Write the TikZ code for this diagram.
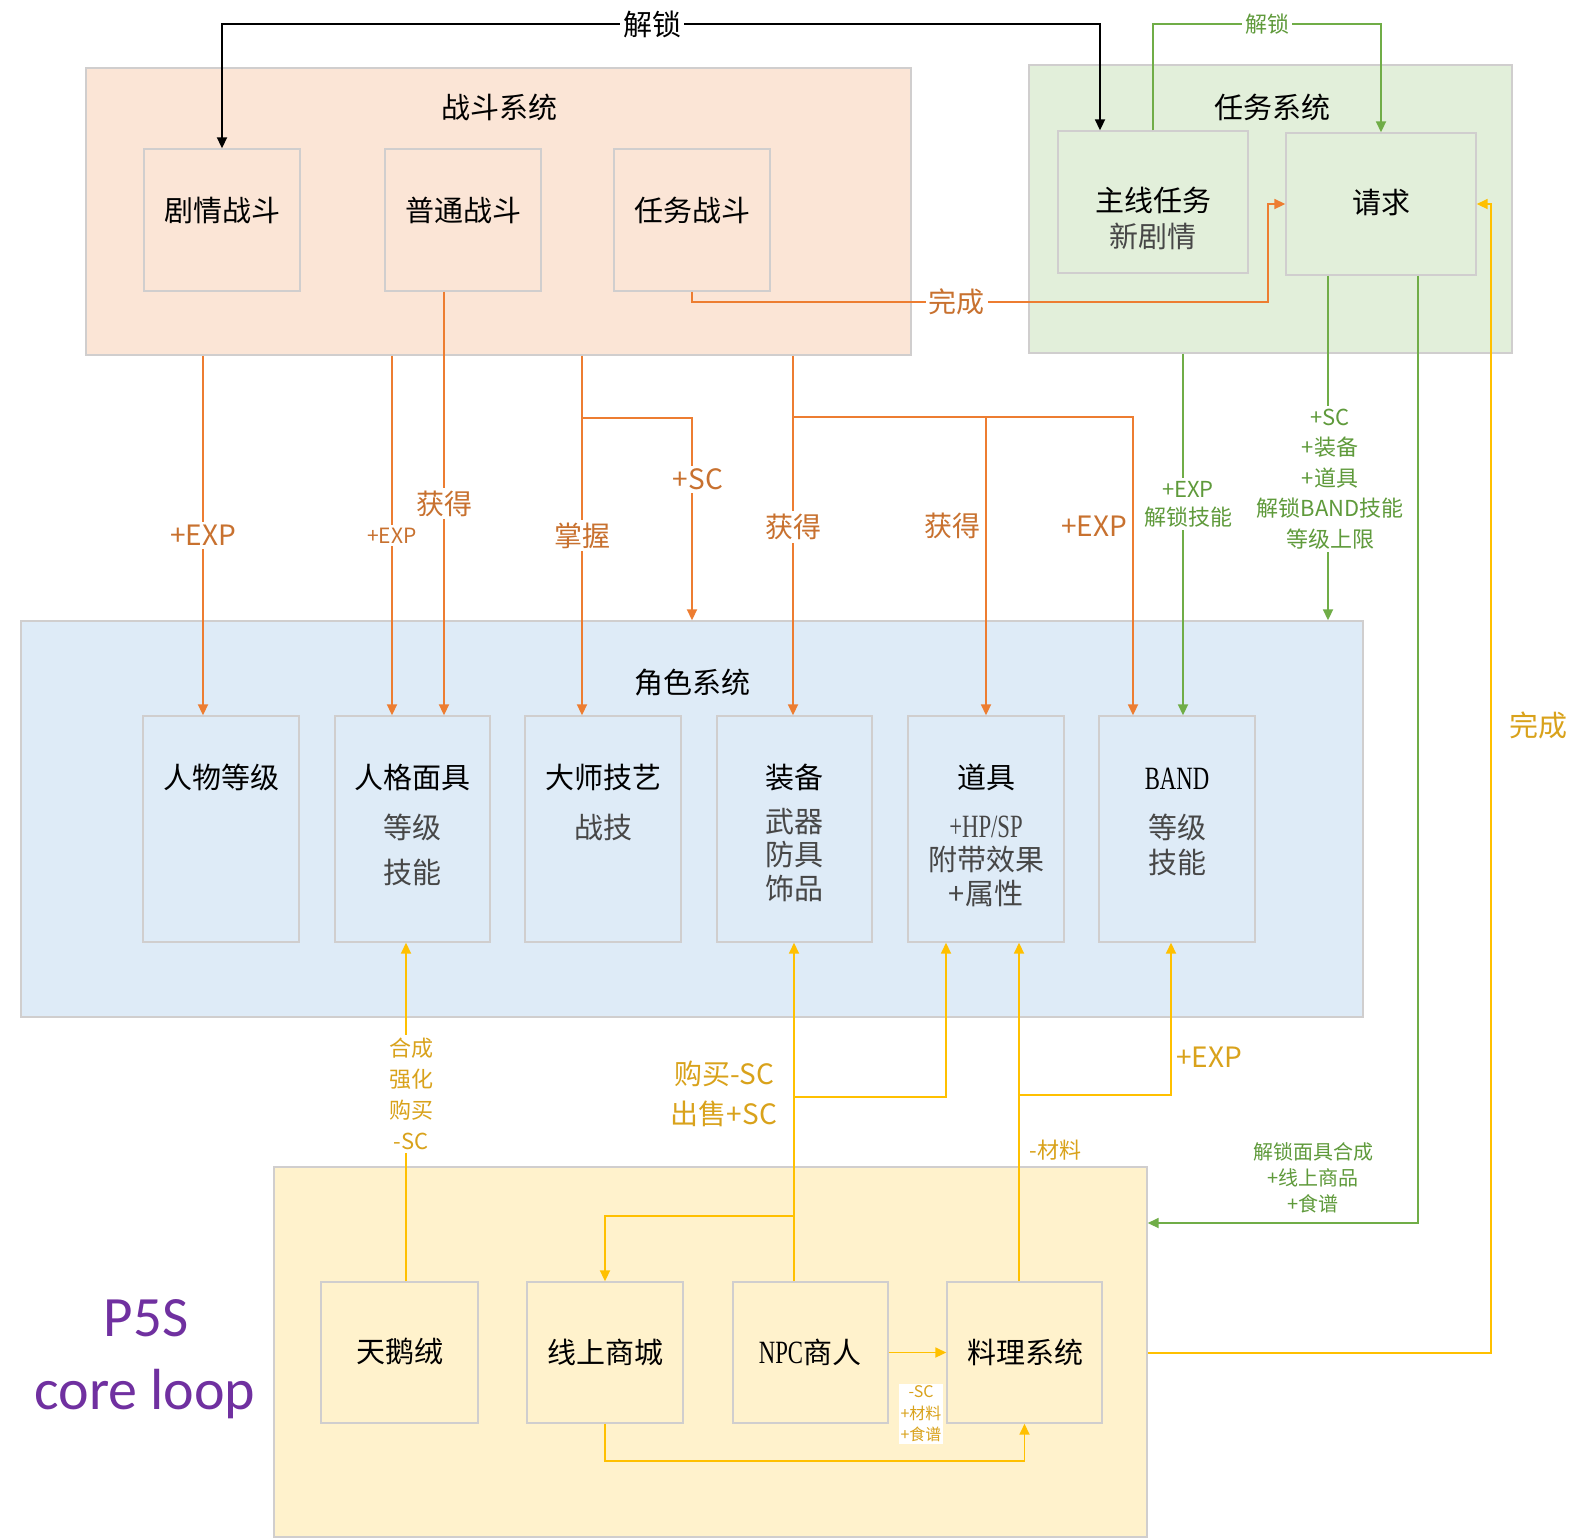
\documentclass[tikz,border=0pt]{standalone}
\usepackage{fontspec}
\setmainfont{Noto Sans CJK SC}
\newfontfamily\calib{Carlito}
\newfontfamily\lser[FakeStretch=0.7,Scale=1.12]{Liberation Serif}
\usetikzlibrary{arrows.meta,fit}
\definecolor{peach}{HTML}{FBE5D6}
\definecolor{lgreen}{HTML}{E2EFDA}
\definecolor{lblue}{HTML}{DEEBF7}
\definecolor{lyellow}{HTML}{FFF2CC}
\definecolor{edgec}{HTML}{D0CECE}
\definecolor{orangeL}{HTML}{ED7D31}
\definecolor{orangeT}{HTML}{C8712F}
\definecolor{greenL}{HTML}{70AD47}
\definecolor{greenT}{HTML}{5F9A3B}
\definecolor{yellowL}{HTML}{FFC000}
\definecolor{yellowT}{HTML}{D9A21B}
\definecolor{purp}{HTML}{7030A0}
\tikzset{
  cont/.style={draw=edgec, line width=0.7pt, inner sep=0pt, rectangle},
  inbox/.style={draw=edgec, line width=0.7pt, inner sep=0pt, rectangle},
  ttl/.style={font=\fontsize{14.5pt}{17pt}\selectfont, text=black, inner sep=0pt},
  subt/.style={text=black!72, align=center, inner sep=0pt},
  conn/.style={line width=0.9pt, -{Triangle[length=5.5pt,width=5pt]}},
  org/.style={conn, draw=orangeL},
  grn/.style={conn, draw=greenL},
  yel/.style={conn, draw=yellowL},
  blk/.style={line width=0.9pt, draw=black, {Triangle[length=5.5pt,width=5pt]}-{Triangle[length=5.5pt,width=5pt]}},
  lbl/.style={fill=white, inner sep=1.5pt, align=center},
  olbl/.style={lbl, text=orangeT, font=\fontsize{14pt}{17pt}\selectfont},
  glbl/.style={lbl, text=greenT, font=\fontsize{11pt}{14pt}\selectfont},
  ylbl/.style={lbl, text=yellowT, font=\fontsize{11pt}{15.5pt}\selectfont},
}
\begin{document}
\begin{tikzpicture}[x=0.5pt,y=-0.5pt]
\fill[white] (0,0) rectangle (1585,1539);
\useasboundingbox (0,0) rectangle (1585,1539);

% helper coordinates
\coordinate (Y24) at (0,24);
\coordinate (Y302) at (0,302);
\coordinate (Y417) at (0,417);
\coordinate (Y418) at (0,418);
\coordinate (Y1095) at (0,1095);
\coordinate (Y1097) at (0,1097);
\coordinate (Y1216) at (0,1216);
\coordinate (Y1223) at (0,1223);
\coordinate (Y1353) at (0,1353);
\coordinate (Y1461) at (0,1461);
\coordinate (X203) at (203,0);
\coordinate (X392) at (392,0);
\coordinate (X444) at (444,0);
\coordinate (X406) at (406,0);
\coordinate (X582) at (582,0);
\coordinate (X692) at (692,0);
\coordinate (X793) at (793,0);
\coordinate (X794) at (794,0);
\coordinate (X946) at (946,0);
\coordinate (X986) at (986,0);
\coordinate (X1019) at (1019,0);
\coordinate (X1100) at (1100,0);
\coordinate (X1133) at (1133,0);
\coordinate (X1171) at (1171,0);
\coordinate (X1183) at (1183,0);
\coordinate (X1268) at (1268,0);
\coordinate (X1328) at (1328,0);
\coordinate (X1418) at (1418,0);
\coordinate (X1491) at (1491,0);

% containers
\node[cont, fill=peach, fit={(86,68) (911,355)}] (battle) {};
\node[cont, fill=lgreen, fit={(1029,65) (1512,353)}] (task) {};
\node[cont, fill=lblue, fit={(21,621) (1363,1017)}] (charsys) {};
\node[cont, fill=lyellow, fit={(274,1167) (1147,1537)}] (craft) {};

\node[ttl] (battle-t) at (499,107) {战斗系统};
\node[ttl] (task-t) at (1272,107) {任务系统};
\node[ttl] (char-t) at (692,683) {角色系统};

% battle boxes
\node[inbox, fit={(144,149) (300,291)}] (plot) {};
\node[inbox, fit={(385,149) (541,291)}] (normal) {};
\node[inbox, fit={(614,149) (770,291)}] (quest) {};
\node[ttl] (plot-t) at (222,210) {剧情战斗};
\node[ttl] (normal-t) at (463,210) {普通战斗};
\node[ttl] (quest-t) at (692,210) {任务战斗};

% task boxes
\node[inbox, fit={(1058,131) (1248,273)}] (mainq) {};
\node[inbox, fit={(1286,133) (1476,275)}] (request) {};
\node[ttl] (mainq-t) at (1153,200) {主线任务};
\node[subt, font=\fontsize{14.5pt}{17pt}\selectfont] (mainq-s) at (1153,236) {新剧情};
\node[ttl] (request-t) at (1381,202) {请求};

% character boxes
\node[inbox, fit={(143,716) (299,942)}] (level) {};
\node[inbox, fit={(335,716) (490,942)}] (mask) {};
\node[inbox, fit={(525,716) (681,942)}] (master) {};
\node[inbox, fit={(717,716) (872,942)}] (equip) {};
\node[inbox, fit={(908,716) (1064,942)}] (item) {};
\node[inbox, fit={(1099,716) (1255,942)}] (band) {};
\node[ttl] (level-t) at (221,777) {人物等级};
\node[ttl] (mask-t) at (412,777) {人格面具};
\node[subt, font=\fontsize{14.5pt}{22.5pt}\selectfont] (mask-s) at (412,850) {等级\\技能};
\node[ttl] (master-t) at (603,777) {大师技艺};
\node[subt, font=\fontsize{14.5pt}{17pt}\selectfont] (master-s) at (603,827) {战技};
\node[ttl] (equip-t) at (794,777) {装备};
\node[subt, font=\fontsize{14.5pt}{16.75pt}\selectfont] (equip-s) at (794,855) {武器\\防具\\饰品};
\node[ttl] (item-t) at (986,777) {道具};
\node[subt, font=\fontsize{14.5pt}{16.75pt}\selectfont] (item-s) at (986,861) {{\lser +HP/SP}\\附带效果\\+属性};
\node[ttl] (band-t) at (1177,779) {\lser BAND};
\node[subt, font=\fontsize{14.5pt}{17.5pt}\selectfont] (band-s) at (1177,845) {等级\\技能};

% craft boxes
\node[inbox, fit={(321,1282) (478,1423)}] (velvet) {};
\node[inbox, fit={(527,1282) (683,1423)}] (shop) {};
\node[inbox, fit={(733,1282) (888,1423)}] (npc) {};
\node[inbox, fit={(947,1282) (1102,1423)}] (cook) {};
\node[ttl] (velvet-t) at (400,1352) {天鹅绒};
\node[ttl] (shop-t) at (605,1352) {线上商城};
\node[ttl] (npc-t) at (810,1352) {{\lser NPC}商人};
\node[ttl] (cook-t) at (1025,1352) {料理系统};

% title
\node[text=purp, font=\calib\fontsize{28.5pt}{34pt}\selectfont, inner sep=0pt] (p5s) at (146,1318) {P5S};
\node[text=purp, font=\calib\fontsize{29pt}{34pt}\selectfont, inner sep=0pt] (coreloop) at (145,1394) {core loop};

% black unlock
\draw[blk] (plot.north) -- (plot.north |- Y24)
  -- node[lbl, pos=0.49, text=black, font=\fontsize{14.5pt}{17pt}\selectfont] (unlock1) {解锁} (X1100 |- Y24)
  -- (X1100 |- mainq.north);
% green unlock
\draw[grn] (mainq.north) -- (mainq.north |- Y24)
  -- node[glbl, pos=0.5] (unlock2) {解锁} (request.north |- Y24) -- (request.north);
% orange complete
\draw[org] (quest.south) -- (quest.south |- Y302)
  -- node[olbl, pos=0.46] (done1) {完成} (X1268 |- Y302)
  -- (X1268 |- request.west) -- (request.west);

% orange battle -> character
\draw[org] (X203 |- battle.south) -- node[olbl, pos=0.5] (o1) {+EXP} (X203 |- level.north);
\draw[org] (X392 |- battle.south) -- node[olbl, pos=0.5, font=\fontsize{10.5pt}{12pt}\selectfont] (o2) {+EXP} (X392 |- mask.north);
\draw[org] (normal.south -| X444) -- node[olbl, pos=0.5] (o3) {获得} (X444 |- mask.north);
\draw[org] (X582 |- battle.south) -- node[olbl, pos=0.5] (o4) {掌握} (X582 |- master.north);
\draw[org] (X582 |- Y418) -- (X692 |- Y418) -- node[olbl, pos=0.305, xshift=3pt] (o5) {+SC} (X692 |- charsys.north);
\draw[org] (X793 |- battle.south) -- node[olbl, pos=0.476] (o6) {获得} (X793 |- equip.north);
\draw[org] (X793 |- Y417) -- (X1133 |- Y417)
  -- node[olbl, fill=none, anchor=east, xshift=-1pt, pos=0.365] (o8) {+EXP} (X1133 |- band.north);
\draw[org] (X986 |- Y417) -- node[olbl, fill=none, anchor=east, xshift=-1pt, pos=0.365] (o7) {获得} (X986 |- item.north);

% green task -> character / craft
\draw[grn] (X1183 |- task.south) -- node[glbl, pos=0.416, xshift=2.5pt] (g1) {+EXP\\解锁技能} (X1183 |- band.north);
\draw[grn] (request.south -| X1328) -- node[glbl, pos=0.59, xshift=1pt, font=\fontsize{11pt}{15.25pt}\selectfont] (g2) {+SC\\+装备\\+道具\\解锁BAND技能\\等级上限} (X1328 |- charsys.north);
\draw[grn] (request.south -| X1418) -- (X1418 |- Y1223) -- (craft.east |- Y1223);
\node[glbl, fill=none, font=\fontsize{10pt}{13pt}\selectfont] (g3) at (1313,1178) {解锁面具合成\\+线上商品\\+食谱};

% yellow craft -> character
\draw[yel] (velvet.north -| X406) -- node[ylbl, pos=0.553, xshift=2.5pt] (y1) {合成\\强化\\购买\\-SC} (X406 |- mask.south);
\draw[yel] (npc.north -| X794) -- (X794 |- equip.south);
\draw[yel] (X794 |- Y1097) -- (X946 |- Y1097) -- (X946 |- item.south);
\draw[yel] (X794 |- Y1216) -- (shop.north |- Y1216) -- (shop.north);
\node[ylbl, fill=none, font=\fontsize{14pt}{20pt}\selectfont] (y2) at (724,1094) {购买-SC\\出售+SC};
\draw[yel] (cook.north -| X1019) -- (X1019 |- item.south);
\draw[yel] (X1019 |- Y1095) -- (X1171 |- Y1095) -- (X1171 |- band.south);
\node[ylbl, fill=none, anchor=west, font=\fontsize{14pt}{17pt}\selectfont, inner sep=0pt] (y3) at (1176,1057) {+EXP};
\node[ylbl, fill=none, anchor=west, inner sep=0pt] (y4) at (1029,1150) {-材料};
\draw[yel] (npc.east) -- (cook.west);
\node[ylbl, font=\fontsize{8pt}{10.75pt}\selectfont, inner sep=1pt] (y5) at (921,1414) {-SC\\+材料\\+食谱};
\draw[yel] (shop.south) -- (shop.south |- Y1461) -- (cook.south |- Y1461) -- (cook.south);
\draw[yel] (craft.east |- Y1353) -- (X1491 |- Y1353) -- (X1491 |- request.east) -- (request.east);
\node[ylbl, fill=none, font=\fontsize{14.5pt}{17pt}\selectfont] (y6) at (1538,725) {完成};
\end{tikzpicture}
\end{document}
